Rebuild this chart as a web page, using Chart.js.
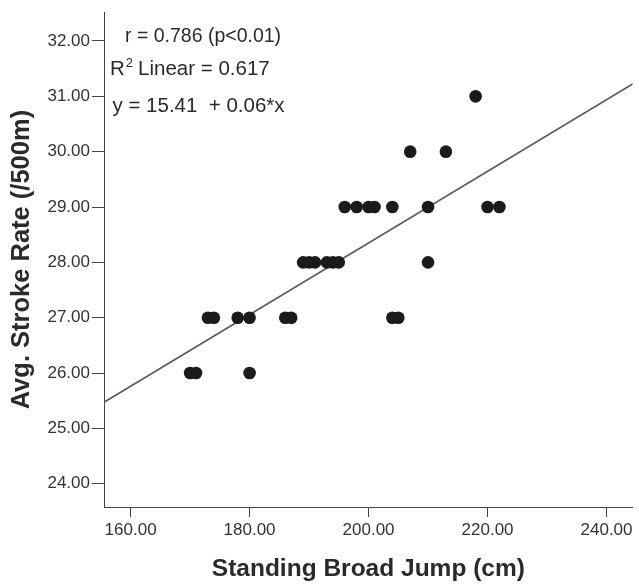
<!DOCTYPE html>
<html>
<head>
<meta charset="utf-8">
<title>Standing Broad Jump vs Avg. Stroke Rate</title>
<script src="https://cdn.jsdelivr.net/npm/chart.js@4.4.1/dist/chart.umd.min.js"></script>
<style>
  html, body { margin: 0; padding: 0; background: #ffffff; }
  #wrap { width: 639px; height: 587px; position: relative; }
</style>
</head>
<body>
<div id="wrap"><canvas id="chart" width="639" height="587"></canvas></div>
<script>
// Standing broad jump (cm) for each rower
const jumpCm = [
  170, 171, 180,
  173, 174, 178, 180, 186, 187, 204, 205,
  189, 190, 191, 193, 194, 195, 210,
  196, 198, 200, 201, 204, 210, 220, 222,
  207, 213,
  218
];
// Average stroke rate (/500m) for the same rowers
const strokeRate = [
  26, 26, 26,
  27, 27, 27, 27, 27, 27, 27, 27,
  28, 28, 28, 28, 28, 28, 28,
  29, 29, 29, 29, 29, 29, 29, 29,
  30, 30,
  31
];

// Axis ticks
const xTicks = [160, 180, 200, 220, 240];
const yTicks = [24, 25, 26, 27, 28, 29, 30, 31, 32];

// Fit statistics
const fitIntercept = 15.41;
const fitSlope = 0.0647;
const pearsonR = 0.786;
const rSquared = 0.617;

const X_MIN = 155.53, X_MAX = 244.4;
const Y_MIN = 23.58, Y_MAX = 32.52;

const points = jumpCm.map((x, i) => ({ x: x, y: strokeRate[i] }));
const fitLine = [X_MIN, X_MAX].map(x => ({ x: x, y: fitIntercept + fitSlope * x }));

const FONT = "'Liberation Sans', Arial, sans-serif";
const INK = '#2a2a2a';
const AXIS = '#444444';

// Statistics text block in the upper-left of the plot
const statsText = {
  id: 'statsText',
  afterDatasetsDraw(chart) {
    const ctx = chart.ctx;
    ctx.save();
    ctx.fillStyle = INK;
    ctx.textBaseline = 'alphabetic';
    ctx.textAlign = 'left';
    ctx.font = '19.5px ' + FONT;
    ctx.fillText('r = ' + pearsonR.toFixed(3) + ' (p<0.01)', 125, 41.5);

    // R² with a raised, smaller "2"
    ctx.font = '20.5px ' + FONT;
    let x = 110;
    ctx.fillText('R', x, 75);
    x += ctx.measureText('R').width + 1;
    ctx.font = '13px ' + FONT;
    ctx.fillText('2', x, 67);
    x += ctx.measureText('2').width + 5;
    ctx.font = '20.5px ' + FONT;
    ctx.fillText('Linear = ' + rSquared.toFixed(3), x, 75);

    ctx.fillText('y = ' + fitIntercept.toFixed(2) + '  + ' + fitSlope.toFixed(2) + '*x', 112.5, 111.5);
    ctx.restore();
  }
};

new Chart(document.getElementById('chart'), {
  data: {
    datasets: [
      {
        type: 'line',
        label: 'Linear fit',
        data: fitLine,
        borderColor: '#5a5a5a',
        borderWidth: 1.7,
        pointRadius: 0,
        fill: false,
        tension: 0,
        order: 2
      },
      {
        type: 'scatter',
        label: 'Rowers',
        data: points,
        backgroundColor: '#1b1b1b',
        borderWidth: 0,
        pointRadius: 6.3,
        pointHoverRadius: 6.3,
        order: 1
      }
    ]
  },
  options: {
    responsive: false,
    animation: false,
    devicePixelRatio: 1,
    layout: { padding: { left: 0, right: 4, top: 2, bottom: 0 } },
    plugins: {
      legend: { display: false },
      tooltip: { enabled: false }
    },
    scales: {
      x: {
        type: 'linear',
        position: 'bottom',
        min: X_MIN,
        max: X_MAX,
        afterBuildTicks: s => { s.ticks = xTicks.map(v => ({ value: v })); },
        afterFit: s => { s.height = 80; },
        grid: {
          drawOnChartArea: false,
          drawTicks: true,
          tickLength: 10,
          tickColor: AXIS,
          tickWidth: 1
        },
        border: { display: true, color: AXIS, width: 1 },
        ticks: {
          padding: 3,
          color: '#333333',
          font: { family: FONT, size: 17 },
          callback: v => Number(v).toFixed(2)
        },
        title: {
          display: true,
          text: 'Standing Broad Jump (cm)',
          color: INK,
          font: { family: FONT, size: 24.5, weight: 'bold' },
          padding: { top: 0, bottom: 3 }
        }
      },
      y: {
        type: 'linear',
        position: 'left',
        min: Y_MIN,
        max: Y_MAX,
        afterBuildTicks: s => { s.ticks = yTicks.map(v => ({ value: v })); },
        afterFit: s => { s.width = 104; },
        grid: {
          drawOnChartArea: false,
          drawTicks: true,
          tickLength: 12,
          tickColor: AXIS,
          tickWidth: 1
        },
        border: { display: true, color: AXIS, width: 1 },
        ticks: {
          padding: 2,
          color: '#333333',
          font: { family: FONT, size: 17 },
          callback: v => Number(v).toFixed(2)
        },
        title: {
          display: true,
          text: 'Avg. Stroke Rate (/500m)',
          color: INK,
          font: { family: FONT, size: 25.5, weight: 'bold' },
          padding: { top: 7, bottom: 0 }
        }
      }
    }
  },
  plugins: [statsText]
});
</script>
</body>
</html>
